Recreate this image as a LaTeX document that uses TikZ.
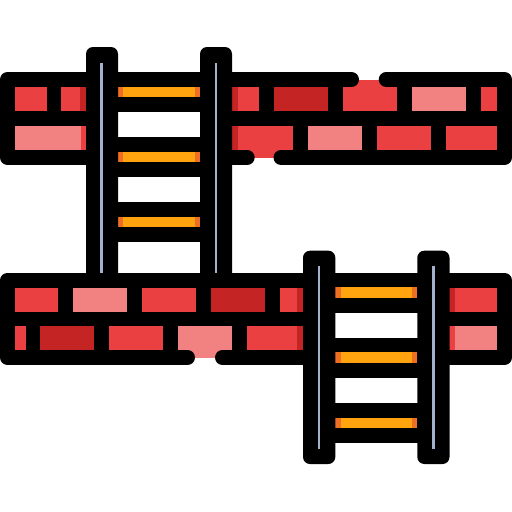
\documentclass[tikz,border=0pt]{standalone}
\definecolor{brickred}{HTML}{EA4042}
\definecolor{brickdark}{HTML}{C52424}
\definecolor{brickpink}{HTML}{F28282}
\definecolor{rungorange}{HTML}{FFA40E}
\definecolor{rungdark}{HTML}{EE6E24}
\definecolor{railline}{HTML}{A3B1CC}
\tikzset{
  wallline/.style={draw=black,line width=15pt,line cap=round,line join=round},
  railbody/.style={fill=black,rounded corners=7pt},
  railstripe/.style={fill=railline},
  rd/.style={fill=brickred},
  dk/.style={fill=brickdark},
  pk/.style={fill=brickpink},
  rung/.style={fill=rungorange},
  rungend/.style={fill=rungdark}
}
% brick: x1,y1,x2,y2,style
\newcommand{\brk}[5]{\fill[#5] (#1,#2) rectangle (#3,#4);}
% rung: left x, top y
\newcommand{\rungbar}[2]{%
  \fill[black] ({#1-1},{#2-15}) rectangle ({#1+83},{#2+25});
  \fill[rung] ({#1},{#2-0.3}) rectangle ({#1+82},{#2+10.3});
  \fill[rungend] ({#1},{#2-0.3}) rectangle ({#1+5.3},{#2+10.3});
  \fill[rungend] ({#1+76.7},{#2-0.3}) rectangle ({#1+82},{#2+10.3});
}
\begin{document}
\begin{tikzpicture}[x=1pt,y=-1pt]
\useasboundingbox (0,0) rectangle (512,512);
\fill[white] (0,0) rectangle (512,512);
% ---------- upper wall ----------
\fill[black] (7.5,79.5) rectangle (504.5,157.5);
\brk{15}{87}{47}{111}{rd}
\brk{61}{87}{86}{111}{rd}
\brk{80}{87}{86}{111}{dk}
\brk{15}{126}{86}{150}{pk}
\brk{80.5}{126}{86}{150}{rd}
\brk{232}{87}{259}{111}{rd}
\brk{232}{87}{238}{111}{dk}
\brk{274}{87}{328}{111}{dk}
\brk{343}{79.5}{397}{111}{rd}
\brk{412}{87}{466}{111}{pk}
\brk{481}{87}{497}{111}{rd}
\brk{232}{126}{292.7}{157.5}{rd}
\brk{232}{126}{238}{150}{dk}
\brk{307.7}{126}{362}{150}{pk}
\brk{377}{126}{431}{150}{rd}
\brk{445.5}{126}{497}{150}{rd}
\draw[wallline] (351.5,79.5) -- (7.5,79.5) -- (7.5,157.5) -- (247.2,157.5);
\draw[wallline] (386.2,79.5) -- (504.5,79.5) -- (504.5,157.5) -- (281,157.5);
% ---------- upper ladder ----------
\fill[white] (118,72) rectangle (200,273);
\rungbar{118}{87}
\rungbar{118}{152}
\rungbar{118}{217}
\fill[railbody] (86,47) rectangle (118,290);
\fill[railbody] (200,47) rectangle (232,290);
\fill[railstripe] (100.3,62.7) rectangle (103,273);
\fill[railstripe] (214.5,62.7) rectangle (217.2,273);
% ---------- lower wall ----------
\fill[black] (7.5,280.2) rectangle (504.5,357.5);
\brk{15}{287.5}{58}{311.5}{rd}
\brk{73}{287.5}{127}{311.5}{pk}
\brk{142}{287.5}{196}{311.5}{rd}
\brk{211}{287.5}{265}{311.5}{dk}
\brk{280}{287.5}{303}{311.5}{rd}
\brk{297.3}{287.5}{303}{311.5}{dk}
\brk{449}{287.5}{497}{311.5}{rd}
\brk{449}{287.5}{455}{311.5}{dk}
\brk{15}{326}{25.5}{350}{rd}
\brk{40}{326}{94}{350}{dk}
\brk{109}{326}{163}{350}{rd}
\brk{178}{326}{232}{357.7}{pk}
\brk{247}{326}{303}{350}{rd}
\brk{297.3}{326}{303}{350}{dk}
\brk{449}{326}{497}{350}{pk}
\brk{449}{326}{455}{350}{rd}
\draw[wallline] (187.5,357.5) -- (7.5,357.5) -- (7.5,280.2) -- (504.5,280.2) -- (504.5,357.5) -- (222.5,357.5);
% ---------- lower ladder ----------
\fill[white] (335,312.7) rectangle (417.5,443);
\rungbar{335.3}{287.7}
\rungbar{335.3}{352.7}
\rungbar{335.3}{418}
\fill[railbody] (303,250.7) rectangle (335.3,464);
\fill[railbody] (417.3,250.7) rectangle (449.5,464);
\fill[railstripe] (317.8,265.7) rectangle (320.4,449);
\fill[railstripe] (432,265.7) rectangle (434.8,449);
\end{tikzpicture}
\end{document}
